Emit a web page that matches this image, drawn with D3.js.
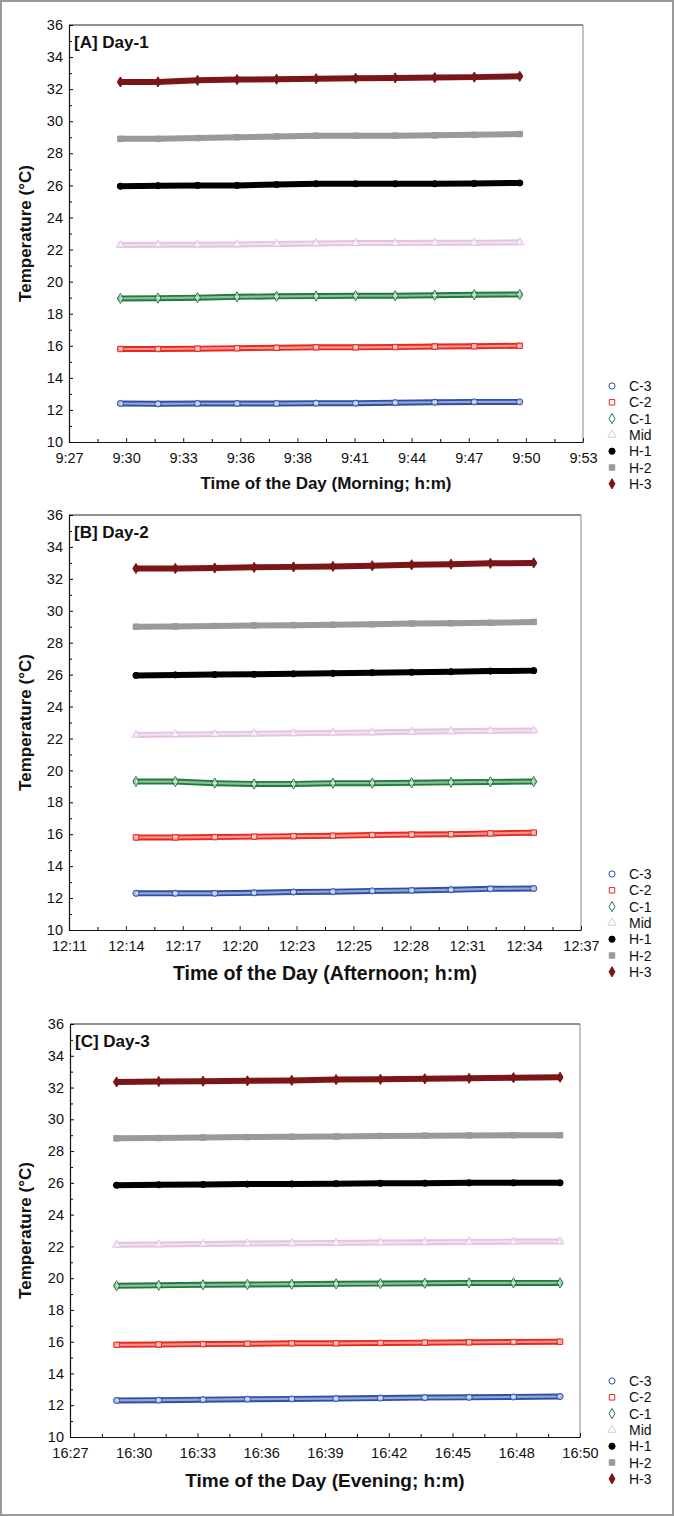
<!DOCTYPE html>
<html><head><meta charset="utf-8">
<script src="https://cdn.jsdelivr.net/npm/d3@7/dist/d3.min.js"></script>
<style>
html,body{margin:0;padding:0;background:#fff;}
svg{display:block;font-family:"Liberation Sans",Arial,sans-serif;}
</style></head>
<body>
<svg id="chart" width="674" height="1516"></svg>
<script>
// ---------- DATA ----------
const seriesNames = ["C-3","C-2","C-1","Mid","H-1","H-2","H-3"];
const seriesColors = ["#2f4ea8","#e8281e","#1f7a3c","#e3c3e3","#000000","#9a9a9a","#7a1518"];
const seriesShapes = ["circle","square","diamond","triangle","circle","square","diamond"];
const seriesHollow = [true,true,true,true,false,false,false];

const yTickValues = [10,12,14,16,18,20,22,24,26,28,30,32,34,36];

// Panel A (Morning) times in minutes since midnight
const xLabelsA = ["9:27","9:30","9:33","9:36","9:38","9:41","9:44","9:47","9:50","9:53"];
const xDomainA = [567, 593];
const timesA = [569.6,571.5,573.5,575.5,577.5,579.5,581.5,583.5,585.5,587.5,589.8];
const A_C3  = [12.40,12.38,12.40,12.40,12.40,12.42,12.42,12.45,12.48,12.50,12.50];
const A_C2  = [15.80,15.80,15.82,15.85,15.87,15.90,15.90,15.92,15.95,15.97,16.00];
const A_C1  = [18.95,18.97,19.00,19.05,19.08,19.10,19.12,19.12,19.15,19.18,19.20];
const A_Mid = [22.28,22.30,22.30,22.32,22.35,22.38,22.40,22.40,22.42,22.43,22.45];
const A_H1  = [25.95,25.98,26.00,26.00,26.05,26.10,26.10,26.10,26.10,26.12,26.15];
const A_H2  = [28.90,28.90,28.95,29.00,29.05,29.10,29.10,29.10,29.12,29.15,29.20];
const A_H3  = [32.45,32.45,32.55,32.60,32.62,32.65,32.68,32.70,32.72,32.75,32.80];

// Panel B (Afternoon)
const xLabelsB = ["12:11","12:14","12:17","12:20","12:23","12:25","12:28","12:31","12:34","12:37"];
const xDomainB = [731, 757];
const timesB = [734.4,736.4,738.4,740.4,742.4,744.4,746.4,748.4,750.4,752.4,754.6];
const B_C3  = [12.30,12.30,12.30,12.33,12.38,12.40,12.45,12.48,12.52,12.58,12.60];
const B_C2  = [15.80,15.80,15.82,15.85,15.88,15.90,15.95,15.98,16.00,16.05,16.10];
const B_C1  = [19.30,19.30,19.20,19.15,19.15,19.20,19.20,19.22,19.25,19.28,19.30];
const B_Mid = [22.22,22.25,22.27,22.30,22.32,22.35,22.38,22.42,22.45,22.48,22.50];
const B_H1  = [25.95,25.98,26.00,26.02,26.05,26.08,26.12,26.15,26.18,26.22,26.25];
const B_H2  = [29.00,29.02,29.05,29.08,29.10,29.12,29.15,29.20,29.22,29.25,29.30];
const B_H3  = [32.65,32.65,32.68,32.72,32.75,32.78,32.82,32.88,32.92,32.97,33.00];

// Panel C (Evening)
const xLabelsC = ["16:27","16:30","16:33","16:36","16:39","16:42","16:45","16:48","16:50"];
const xDomainC = [987, 1010];
const timesC = [989.1,991,993,995,997,999,1001,1003,1005,1007,1009.1];
const C_C3  = [12.30,12.32,12.35,12.38,12.40,12.42,12.45,12.48,12.50,12.52,12.55];
const C_C2  = [15.80,15.82,15.85,15.87,15.90,15.90,15.92,15.94,15.96,15.98,16.00];
const C_C1  = [19.52,19.55,19.58,19.60,19.62,19.64,19.66,19.68,19.70,19.70,19.70];
const C_Mid = [22.10,22.12,22.15,22.18,22.20,22.22,22.24,22.26,22.28,22.30,22.30];
const C_H1  = [25.85,25.88,25.90,25.92,25.93,25.95,25.97,25.98,26.00,26.00,26.00];
const C_H2  = [28.80,28.82,28.85,28.88,28.90,28.92,28.95,28.97,28.98,29.00,29.00];
const C_H3  = [32.35,32.38,32.40,32.42,32.45,32.50,32.52,32.55,32.58,32.62,32.65];

const panels = [
  {title:"[A] Day-1", xTitle:"Time of the Day (Morning; h:m)", xTitleSize:17, xTitleDy:47,
   labels:xLabelsA, domain:xDomainA, times:timesA, left:69, right:583,
   values:[A_C3,A_C2,A_C1,A_Mid,A_H1,A_H2,A_H3], top:25, bottom:442},
  {title:"[B] Day-2", xTitle:"Time of the Day (Afternoon; h:m)", xTitleSize:19.5, xTitleDy:50,
   labels:xLabelsB, domain:xDomainB, times:timesB, left:69, right:581,
   values:[B_C3,B_C2,B_C1,B_Mid,B_H1,B_H2,B_H3], top:515, bottom:930},
  {title:"[C] Day-3", xTitle:"Time of the Day (Evening; h:m)", xTitleSize:19, xTitleDy:50,
   labels:xLabelsC, domain:xDomainC, times:timesC, left:70, right:580,
   values:[C_C3,C_C2,C_C1,C_Mid,C_H1,C_H2,C_H3], top:1024, bottom:1437}
];

// ---------- DRAW ----------
const svg = d3.select("#chart");
svg.append("rect").attr("x",1).attr("y",1).attr("width",672).attr("height",1514)
  .attr("fill","#fff").attr("stroke","#9a9a9a").attr("stroke-width",2);

const symType = {circle:d3.symbolCircle, square:d3.symbolSquare, diamond:d3.symbolDiamond, triangle:d3.symbolTriangle};

panels.forEach(p => {
  const left = p.left, right = p.right;
  const g = svg.append("g");
  const x = d3.scaleLinear().domain(p.domain).range([left, right]);
  const y = d3.scaleLinear().domain([10, 36]).range([p.bottom, p.top]);
  const n = p.labels.length - 1;
  const step = (p.domain[1]-p.domain[0]) / n;
  const majorX = d3.range(n+1).map(i => p.domain[0] + i*step);
  const minorX = d3.range(n).map(i => p.domain[0] + (i+0.5)*step);

  // frame
  g.append("line").attr("x1",left).attr("x2",right).attr("y1",p.top).attr("y2",p.top).attr("stroke","#222").attr("stroke-width",1);
  g.append("line").attr("x1",right).attr("x2",right).attr("y1",p.top).attr("y2",p.bottom).attr("stroke","#888").attr("stroke-width",1);

  // x axis
  const xAxis = d3.axisBottom(x).tickValues(majorX).tickFormat((d,i)=>p.labels[i]).tickSizeInner(-4).tickSizeOuter(0).tickPadding(11);
  const xg = g.append("g").attr("transform",`translate(0,${p.bottom})`).call(xAxis);
  xg.selectAll(".tick line").attr("stroke","#222");
  g.append("g").attr("transform",`translate(0,${p.bottom})`)
    .call(d3.axisBottom(x).tickValues(minorX).tickFormat("").tickSizeInner(-3).tickSizeOuter(0))
    .call(s=>s.select(".domain").remove());
  // y axis
  const yAxis = d3.axisLeft(y).tickValues(yTickValues).tickSizeInner(-4).tickSizeOuter(0).tickPadding(6);
  const yg = g.append("g").attr("transform",`translate(${left},0)`).call(yAxis);
  g.append("g").attr("transform",`translate(${left},0)`)
    .call(d3.axisLeft(y).tickValues(d3.range(11,36,2)).tickFormat("").tickSizeInner(-3).tickSizeOuter(0))
    .call(s=>s.select(".domain").remove());
  [xg,yg].forEach(a=>{
    a.select(".domain").attr("stroke","#111").attr("stroke-width",1.2);
    a.selectAll("text").attr("font-size",14.5).attr("fill","#111").attr("font-family","'Liberation Sans',Arial,sans-serif");
  });

  // titles
  g.append("text").attr("x",left+5).attr("y",p.top+23).attr("font-size",17).attr("font-weight","bold").attr("fill","#111").text(p.title);
  g.append("text").attr("x",(left+right)/2).attr("y",p.bottom+p.xTitleDy).attr("text-anchor","middle")
    .attr("font-size",p.xTitleSize).attr("font-weight","bold").attr("fill","#111").text(p.xTitle);
  g.append("text").attr("transform",`translate(31,${(p.top+p.bottom)/2}) rotate(-90)`).attr("text-anchor","middle")
    .attr("font-size",17).attr("font-weight","bold").attr("fill","#111").text("Temperature (°C)");

  // series
  seriesNames.forEach((name, si) => {
    const pts = p.times.map((t,i)=>[t, p.values[si][i]]);
    const line = d3.line().x(d=>x(d[0])).y(d=>y(d[1]));
    const col = seriesColors[si];
    g.append("path").attr("d",line(pts)).attr("fill","none").attr("stroke",col)
      .attr("stroke-width",6).attr("stroke-linecap","round");
    if (seriesHollow[si]) {
      g.append("path").attr("d",line(pts)).attr("fill","none").attr("stroke","#fff")
        .attr("stroke-opacity",0.5).attr("stroke-width",2.2);
    }
    g.selectAll(null).data(pts).enter().append("path")
      .attr("transform",d=>`translate(${x(d[0])},${y(d[1])})`)
      .attr("d",d3.symbol().type(symType[seriesShapes[si]]).size(30))
      .attr("fill",seriesHollow[si] ? "#fff" : col)
      .attr("fill-opacity",seriesHollow[si] ? 0.6 : 1)
      .attr("stroke",col).attr("stroke-width",1);
  });

  // legend
  const lg = g.append("g");
  const ly0 = p.bottom - 56;
  seriesNames.forEach((name, si) => {
    const yy = ly0 + si*16.3;
    const col = seriesColors[si];
    lg.append("path").attr("transform",`translate(612,${yy})`)
      .attr("d",d3.symbol().type(symType[seriesShapes[si]]).size(30))
      .attr("fill",seriesHollow[si] ? "#fff" : col)
      .attr("stroke",col).attr("stroke-width",1);
    lg.append("text").attr("x",629).attr("y",yy+5).attr("font-size",14).attr("fill","#111").text(name);
  });
});
</script>
</body></html>
